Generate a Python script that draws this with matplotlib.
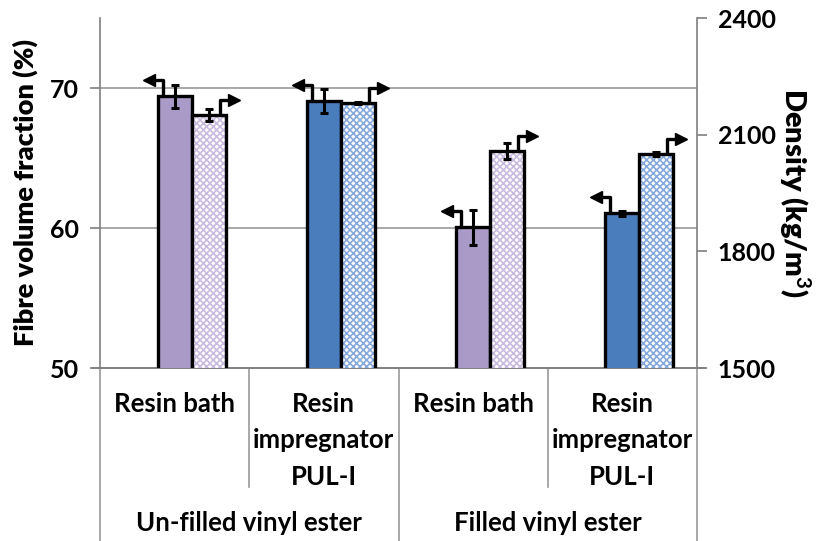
import matplotlib
matplotlib.use("Agg")
import matplotlib.pyplot as plt
from matplotlib.lines import Line2D
import matplotlib.transforms as mtransforms
import numpy as np

plt.rcParams['font.family'] = ['Lato', 'DejaVu Sans']
plt.rcParams['font.weight'] = 'bold'
plt.rcParams['mathtext.fontset'] = 'custom'
plt.rcParams['mathtext.bf'] = 'Lato:bold'
plt.rcParams['hatch.linewidth'] = 1.2

groups = ["Un-filled vinyl ester", "Filled vinyl ester"]
methods = ["Resin bath", "Resin\nimpregnator\nPUL-I", "Resin bath", "Resin\nimpregnator\nPUL-I"]
fvf = [69.4, 69.1, 60.05, 61.05]
fvf_err = [0.8, 0.85, 1.25, 0.2]
density = [2150, 2182, 2058, 2050]
density_err = [15, 3, 20, 5]

fill_colors = ["#a99ac8", "#4a7dbc", "#a99ac8", "#4a7dbc"]
hatch_colors = ["#c9bce0", "#86aade", "#c9bce0", "#86aade"]

fig = plt.figure(figsize=(8.19, 5.41), dpi=100)
ax = fig.add_axes([100/819, 1 - 368/541, 597/819, 350/541])
ax2 = ax.twinx()

x = np.arange(len(methods))
w = 0.228

ax.set_xlim(-0.5, 3.5)
ax.set_ylim(50, 75)
ax2.set_ylim(1500, 2400)

ax.set_yticks([50, 60, 70])
ax2.set_yticks([1500, 1800, 2100, 2400])
ax.set_xticks([])
for yv in [60, 70]:
    ax.axhline(yv, color="#9a9a9a", lw=1.2, zorder=0)

ax.bar(x, fvf, w, color=fill_colors, edgecolor="black", linewidth=2.4, zorder=3)
ax.errorbar(x, fvf, yerr=fvf_err, fmt="none", ecolor="black", elinewidth=2.2, capsize=3, capthick=2.2, zorder=4)

ax2.bar(x + w, density, w, color="white", edgecolor=hatch_colors, hatch="xxxxx", linewidth=0, zorder=3)
ax2.bar(x + w, density, w, color="none", edgecolor="black", linewidth=2.4, zorder=4)
ax2.errorbar(x + w, density, yerr=density_err, fmt="none", ecolor="black", elinewidth=2.2, capsize=3, capthick=2.2, zorder=5)

px = 0.72  # points per pixel at 100 dpi


def axis_arrow(a, xv, yv, dx_px, up_px, length_px):
    sign = 1 if length_px > 0 else -1
    a.annotate("", xy=(xv, yv), xytext=(dx_px * px, up_px * px),
               xycoords=mtransforms.offset_copy(a.transData, fig=fig, x=dx_px * px, y=0, units='points'),
               textcoords="offset points",
               arrowprops=dict(arrowstyle="-", color="black", lw=2.4,
                               connectionstyle="angle,angleA=0,angleB=90,rad=0", shrinkA=0, shrinkB=0), zorder=6)
    tr = mtransforms.offset_copy(a.transData, fig=fig, x=(dx_px + length_px) * px, y=up_px * px, units='points')
    a.plot([xv], [yv], marker=">" if sign > 0 else "<", markersize=9, color="black", transform=tr,
           clip_on=False, zorder=7)


for i in range(len(x)):
    axis_arrow(ax, x[i], fvf[i], -12, 16, -14)
    axis_arrow(ax2, x[i] + w, density[i], 11, 15, 14)

for a in (ax, ax2):
    a.spines['top'].set_visible(False)
    for s in ('left', 'right', 'bottom'):
        a.spines[s].set_color("#7f7f7f")
        a.spines[s].set_linewidth(1.2)
ax2.spines['bottom'].set_visible(False)
ax.spines['right'].set_visible(False)
ax2.spines['left'].set_visible(False)

ax.tick_params(axis='y', length=7, width=1.2, color="#7f7f7f", labelsize=18, pad=8)
ax2.tick_params(axis='y', length=7, width=1.2, color="#7f7f7f", labelsize=18, pad=8)
for lab in ax.get_yticklabels() + ax2.get_yticklabels():
    lab.set_fontweight('bold')

ax.set_ylabel("Fibre volume fraction (%)", fontsize=19.5, fontweight='heavy', labelpad=9)
ax2.set_ylabel("Density (kg/m$^\\mathbf{3}$)", fontsize=21, fontweight='heavy', rotation=270, labelpad=26)

trans = mtransforms.blended_transform_factory(ax.transData, ax.transAxes)
ax.add_line(Line2D([-0.5 - 7 / 149.25, 3.5 + 8 / 149.25], [0, 0], transform=trans, color="#7f7f7f", lw=1.2, clip_on=False))
for xv in [-0.5, 1.5, 3.5]:
    ax.add_line(Line2D([xv, xv], [0, -0.52], transform=trans, color="#9a9a9a", lw=1.2, clip_on=False))
for xv in [0.5, 2.5]:
    ax.add_line(Line2D([xv, xv], [0, -119 / 350], transform=trans, color="#9a9a9a", lw=1.2, clip_on=False))

for i, m in enumerate(methods):
    ax.text(x[i], -24 / 350, m, transform=trans, ha="center", va="top", fontsize=18.5, fontweight='bold',
            linespacing=1.62)
for j, g in enumerate(groups):
    ax.text(0.5 + 2 * j, -155 / 350, g, transform=trans, ha="center", va="center", fontsize=18.5, fontweight='bold')

fig.savefig("out.png", dpi=100)
